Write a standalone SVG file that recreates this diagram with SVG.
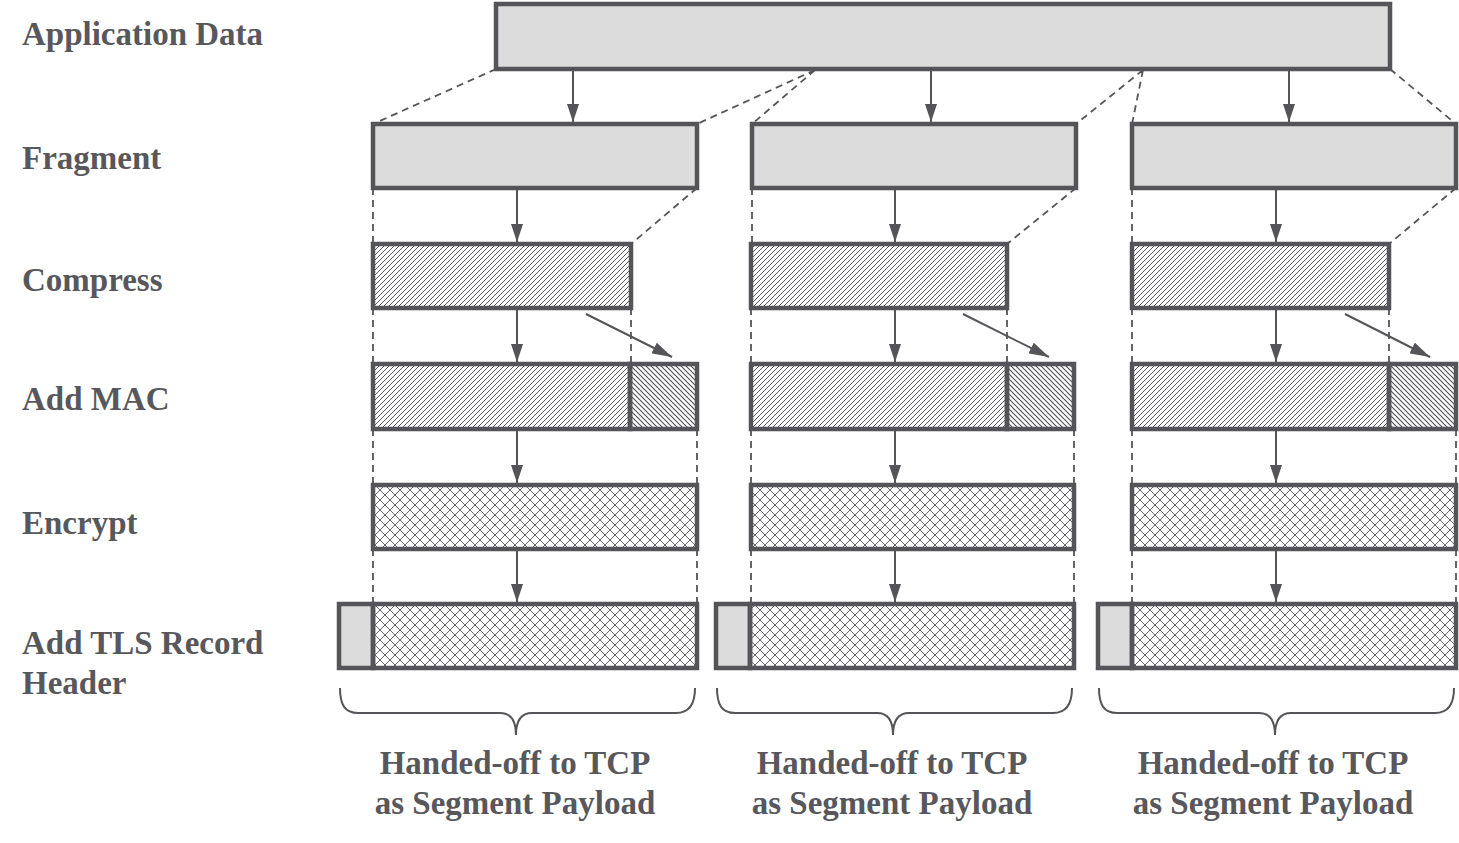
<svg xmlns="http://www.w3.org/2000/svg" width="1459" height="843" viewBox="0 0 1459 843">
<defs>
<pattern id="hatchF" patternUnits="userSpaceOnUse" width="5" height="5">
<path d="M-1,1 L1,-1 M0,5 L5,0 M4,6 L6,4" stroke="#5a5a5e" stroke-width="1"/>
</pattern>
<pattern id="hatchB" patternUnits="userSpaceOnUse" width="5" height="5">
<path d="M0,0 L5,5 M-1,4 L1,6 M4,-1 L6,1" stroke="#555559" stroke-width="1.2"/>
</pattern>
<pattern id="cross" patternUnits="userSpaceOnUse" width="10" height="10">
<path d="M0,0 L10,10 M10,0 L0,10" stroke="#66666a" stroke-width="1"/>
</pattern>
<marker id="ah" viewBox="0 0 20 12" refX="20" refY="6" markerWidth="20" markerHeight="12" markerUnits="userSpaceOnUse" orient="auto">
<path d="M0,0 L20,6 L0,12 Z" fill="#555559"/>
</marker>
<marker id="ahv" viewBox="0 0 12 18" refX="6" refY="18" markerWidth="12" markerHeight="18" markerUnits="userSpaceOnUse" orient="0">
<path d="M0,0 L12,0 L6,18 Z" fill="#555559"/>
</marker>
</defs>
<style>
.box{stroke:#555559;stroke-width:4.5;}
.plain{fill:#dcdcdc;}
.cmp{fill:url(#hatchF);}
.mac{fill:url(#hatchB);}
.enc{fill:url(#cross);}
.dash{stroke:#555559;stroke-width:1.8;stroke-dasharray:7,5;fill:none;}
.arr{stroke:#555559;stroke-width:2;fill:none;}
.brace{stroke:#555559;stroke-width:2;fill:none;}
text{font-family:"Liberation Serif","Times New Roman",serif;font-weight:bold;font-size:33px;fill:#58585c;}
.c{text-anchor:middle;}
</style>
<rect width="1459" height="843" fill="#ffffff"/>

<g id="labels">
<text x="22" y="45">Application Data</text>
<text x="22" y="169">Fragment</text>
<text x="22" y="291">Compress</text>
<text x="22" y="410">Add MAC</text>
<text x="22" y="534">Encrypt</text>
<text x="22" y="654">Add TLS Record</text>
<text x="22" y="694">Header</text>
</g>

<g id="connectors">
<path class="dash" d="M496,69 L373,124 M815,70 L697,124 M815,70 L752,124 M1143,70 L1076,124 M1143,70 L1132,124 M1390,69 L1456,124"/>
<path class="dash" d="M373,188 L373,244 M697,188 L631,244 M373,308 L373,364 M631,308 L631,364 M373,429 L373,485 M697,429 L697,485 M373,549 L373,604 M697,549 L697,604"/>
<path class="dash" d="M752,188 L752,244 M1076,188 L1007,244 M751,308 L751,364 M1007,308 L1007,364 M751,429 L751,485 M1074,429 L1074,485 M751,549 L751,604 M1074,549 L1074,604"/>
<path class="dash" d="M1132,188 L1132,244 M1456,188 L1389,244 M1132,308 L1132,364 M1389,308 L1389,364 M1132,429 L1132,485 M1456,429 L1456,485 M1132,549 L1132,604 M1456,549 L1456,604"/>
<g class="arr" marker-end="url(#ahv)">
<path d="M573,71 L573,122"/><path d="M931,71 L931,122"/><path d="M1289,71 L1289,122"/>
<path d="M517,190 L517,242"/><path d="M517,310 L517,362"/><path d="M517,431 L517,483"/><path d="M517,551 L517,602"/>
<path d="M895,190 L895,242"/><path d="M895,310 L895,362"/><path d="M895,431 L895,483"/><path d="M895,551 L895,602"/>
<path d="M1276,190 L1276,242"/><path d="M1276,310 L1276,362"/><path d="M1276,431 L1276,483"/><path d="M1276,551 L1276,602"/>
</g>
<g class="arr" marker-end="url(#ah)">
<path d="M586,314 L672,357"/><path d="M963,314 L1049,357"/><path d="M1345,314 L1430,357"/>
</g>
</g>

<g id="app-data"><rect class="box plain" x="496" y="4" width="894" height="65"/></g>

<g id="fragment-1"><rect class="box plain" x="373" y="124" width="324" height="64"/></g>
<g id="fragment-2"><rect class="box plain" x="752" y="124" width="324" height="64"/></g>
<g id="fragment-3"><rect class="box plain" x="1132" y="124" width="324" height="64"/></g>

<g id="compress-1"><rect class="box cmp" x="373" y="244" width="258" height="64"/></g>
<g id="compress-2"><rect class="box cmp" x="751" y="244" width="256" height="64"/></g>
<g id="compress-3"><rect class="box cmp" x="1132" y="244" width="257" height="64"/></g>

<g id="mac-1"><rect class="box cmp" x="373" y="364" width="257" height="65"/><rect class="box mac" x="630" y="364" width="67" height="65"/></g>
<g id="mac-2"><rect class="box cmp" x="751" y="364" width="256" height="65"/><rect class="box mac" x="1007" y="364" width="67" height="65"/></g>
<g id="mac-3"><rect class="box cmp" x="1132" y="364" width="257" height="65"/><rect class="box mac" x="1389" y="364" width="67" height="65"/></g>

<g id="encrypt-1"><rect class="box enc" x="373" y="485" width="324" height="64"/></g>
<g id="encrypt-2"><rect class="box enc" x="751" y="485" width="323" height="64"/></g>
<g id="encrypt-3"><rect class="box enc" x="1132" y="485" width="324" height="64"/></g>

<g id="record-1"><rect class="box plain" x="339" y="604" width="34" height="64"/><rect class="box enc" x="373" y="604" width="324" height="64"/></g>
<g id="record-2"><rect class="box plain" x="716" y="604" width="34" height="64"/><rect class="box enc" x="750" y="604" width="324" height="64"/></g>
<g id="record-3"><rect class="box plain" x="1098" y="604" width="34" height="64"/><rect class="box enc" x="1132" y="604" width="324" height="64"/></g>

<g id="brace-1">
<path class="brace" d="M340,688 C340,705 345,713 358,713 L500,713 C510,713 516,720 516,735 C516,720 522,713 532,713 L676,713 C689,713 695,705 695,688"/>
<text class="c" x="515" y="774">Handed-off to TCP</text>
<text class="c" x="515" y="814">as Segment Payload</text>
</g>
<g id="brace-2">
<path class="brace" d="M717,688 C717,705 722,713 735,713 L877,713 C887,713 893,720 893,735 C893,720 899,713 909,713 L1053,713 C1066,713 1072,705 1072,688"/>
<text class="c" x="892" y="774">Handed-off to TCP</text>
<text class="c" x="892" y="814">as Segment Payload</text>
</g>
<g id="brace-3">
<path class="brace" d="M1099,688 C1099,705 1104,713 1117,713 L1259,713 C1269,713 1275,720 1275,735 C1275,720 1281,713 1291,713 L1435,713 C1448,713 1454,705 1454,688"/>
<text class="c" x="1273" y="774">Handed-off to TCP</text>
<text class="c" x="1273" y="814">as Segment Payload</text>
</g>
</svg>
